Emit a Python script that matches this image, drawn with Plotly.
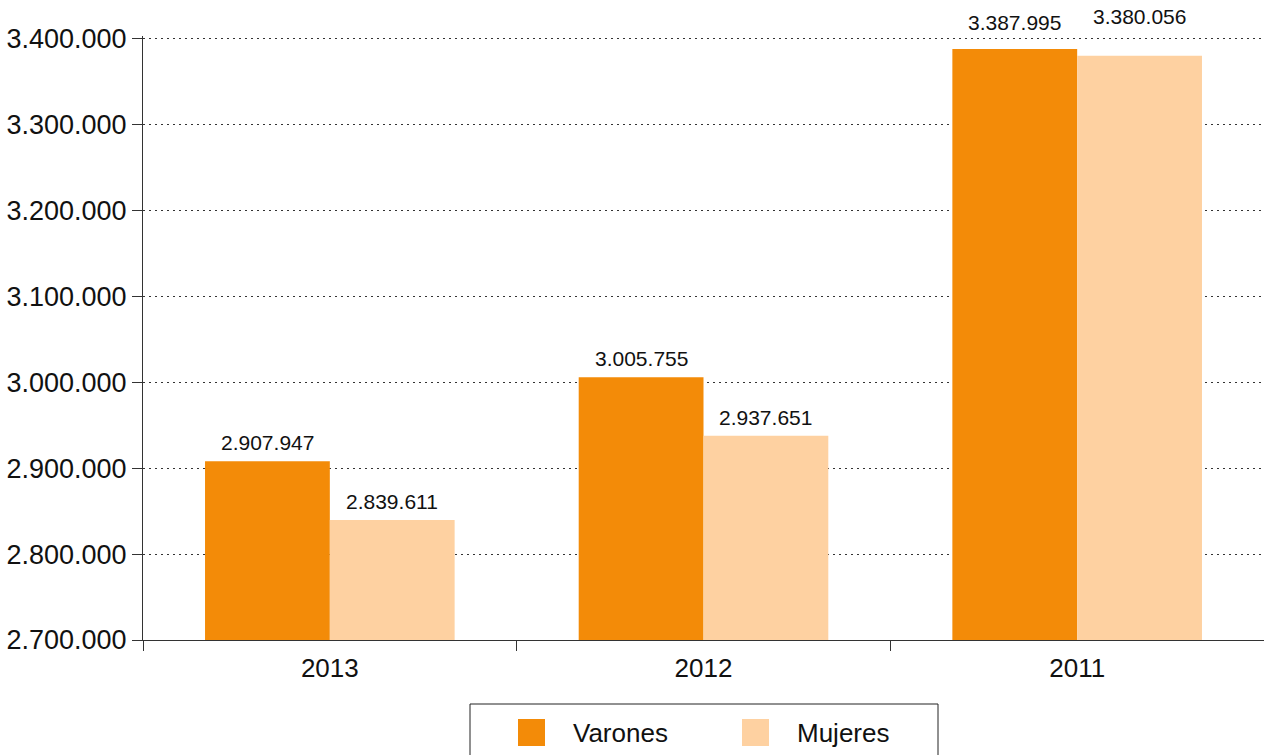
import plotly.graph_objects as go

# Population by sex and year
years = ["2013", "2012", "2011"]
varones = [2907947, 3005755, 3387995]
mujeres = [2839611, 2937651, 3380056]
series_names = ["Varones", "Mujeres"]
y_ticks = [2700000, 2800000, 2900000, 3000000, 3100000, 3200000, 3300000, 3400000]

COL_V = "#F38B08"
COL_M = "#FED1A1"
FONT = "Liberation Sans, Arial, Helvetica, sans-serif"

# pixel geometry of the plotting area
L, T, B, WIDTH, HEIGHT = 143, 36, 115, 1264, 755
PW = WIDTH - L
PH = HEIGHT - T - B
BARGAP = 0.332
Y_MIN, Y_MAX = 2700000, 3403000


def fmt(v):
    return f"{v:,}".replace(",", ".")


fig = go.Figure()
for name, vals, col in [(series_names[0], varones, COL_V), (series_names[1], mujeres, COL_M)]:
    fig.add_trace(go.Bar(
        x=years, y=vals, name=name, marker=dict(color=col, line=dict(width=0)),
        showlegend=False,
    ))

# value labels above each bar (x given as category index); labels that
# would run into the top gridline are lifted above it and staggered
band = PW / len(years)
half_bar = band * (1 - BARGAP) / 4
units_per_px = (Y_MAX - Y_MIN) / PH
top_grid = y_ticks[-1]
for k, (vals, side) in enumerate([(varones, -1), (mujeres, 1)]):
    for i, v in enumerate(vals):
        anchor_y, shift = v, 5
        if (top_grid - v) / units_per_px < 30:
            anchor_y, shift = top_grid, 3 + 6 * k
        fig.add_annotation(
            x=i, y=anchor_y, xref="x", yref="y", text=fmt(v), showarrow=False,
            xanchor="center", yanchor="bottom",
            xshift=side * half_bar, yshift=shift,
            font=dict(size=21, color="#111", family=FONT),
        )

fig.update_layout(
    width=WIDTH, height=HEIGHT,
    margin=dict(l=L, r=0, t=T, b=B),
    paper_bgcolor="white", plot_bgcolor="white",
    barmode="group", bargap=BARGAP, bargroupgap=0,
    font=dict(family=FONT, size=26, color="#111"),
)
fig.update_xaxes(
    type="category", categoryorder="array", categoryarray=years,
    showline=True, linecolor="#333", linewidth=1,
    ticks="outside", tickson="boundaries", ticklen=10, tickcolor="#333",
    tickfont=dict(size=26), tickangle=0, ticklabelstandoff=5,
    showgrid=False, zeroline=False,
)
fig.update_yaxes(
    range=[Y_MIN, Y_MAX], tickvals=y_ticks, ticktext=[fmt(v) for v in y_ticks],
    showline=True, linecolor="#333", linewidth=1,
    ticks="outside", ticklen=10, tickcolor="#333", tickfont=dict(size=27),
    showgrid=True, gridcolor="#333", griddash="2px,4px", gridwidth=1, zeroline=False,
)

# legend box below the plot
def px(x):
    return (x - L) / PW


def py(y):
    return (HEIGHT - B - y) / PH


fig.add_shape(type="rect", xref="paper", yref="paper",
              x0=px(470), x1=px(938), y0=py(704), y1=py(770),
              line=dict(color="#222", width=1), fillcolor="white")
for x0, col, label in [(518, COL_V, series_names[0]), (742, COL_M, series_names[1])]:
    fig.add_shape(type="rect", xref="paper", yref="paper",
                  x0=px(x0), x1=px(x0 + 27), y0=py(746), y1=py(719),
                  line=dict(width=0), fillcolor=col)
    fig.add_annotation(xref="paper", yref="paper", x=px(x0 + 53), y=py(733),
                       text=label, showarrow=False, xanchor="left", yanchor="middle",
                       font=dict(size=26, color="#111", family=FONT))

fig.write_html("out.html")
